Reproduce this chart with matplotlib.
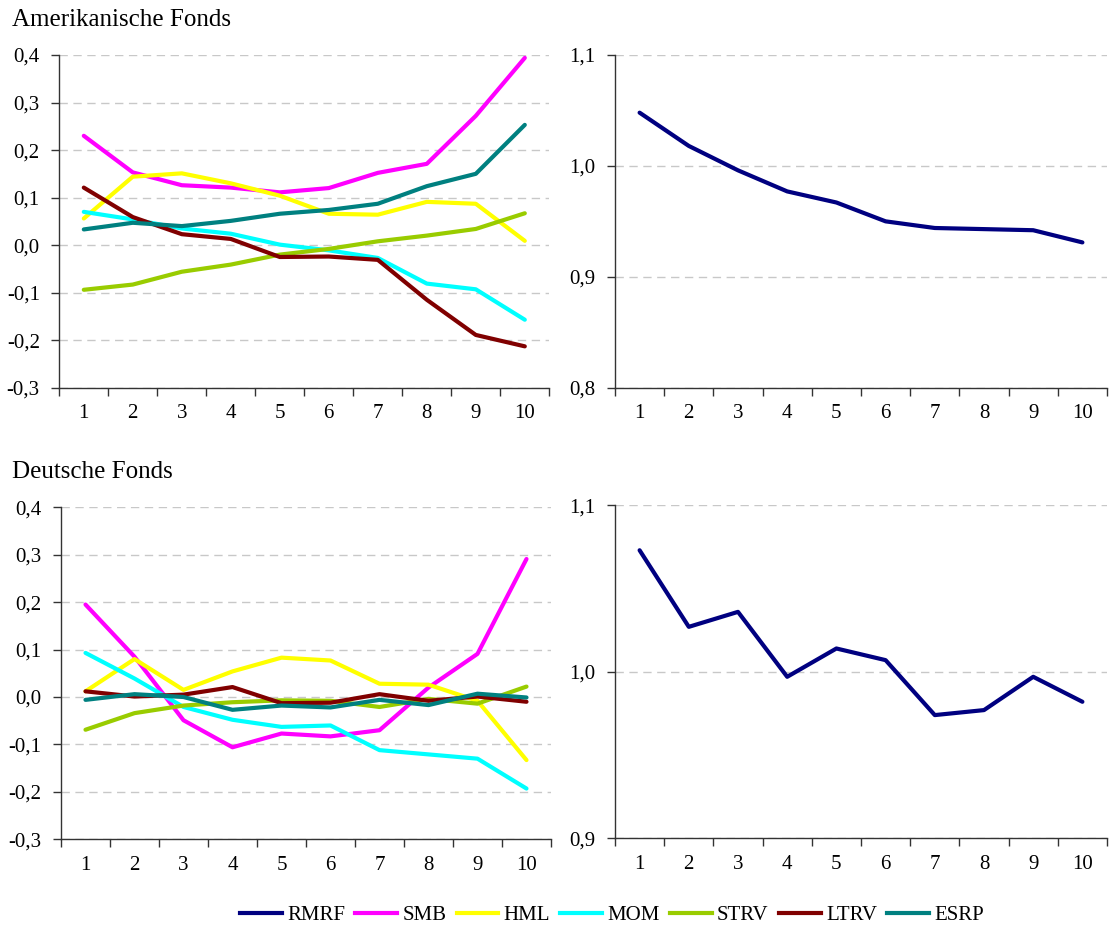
import matplotlib
matplotlib.use("Agg")
import matplotlib.pyplot as plt
from matplotlib.ticker import FuncFormatter, FixedLocator
from matplotlib.lines import Line2D

plt.rcParams["font.family"] = ["Liberation Serif", "DejaVu Serif"]

# Portfolio deciles 1..10
deciles = list(range(1, 11))

# Factor loadings, US funds
us_smb = [0.230, 0.153, 0.126, 0.121, 0.111, 0.120, 0.152, 0.171, 0.272, 0.394]
us_hml = [0.056, 0.144, 0.151, 0.130, 0.104, 0.066, 0.064, 0.091, 0.087, 0.009]
us_mom = [0.070, 0.054, 0.035, 0.024, 0.001, -0.011, -0.027, -0.081, -0.093, -0.157]
us_strv = [-0.094, -0.083, -0.056, -0.041, -0.020, -0.008, 0.008, 0.020, 0.034, 0.067]
us_ltrv = [0.121, 0.059, 0.023, 0.013, -0.025, -0.024, -0.031, -0.115, -0.189, -0.213]
us_esrp = [0.033, 0.047, 0.040, 0.051, 0.066, 0.074, 0.087, 0.124, 0.150, 0.253]
us_rmrf = [1.048, 1.018, 0.996, 0.977, 0.967, 0.950, 0.944, 0.943, 0.942, 0.931]

# Factor loadings, German funds
de_smb = [0.195, 0.085, -0.049, -0.106, -0.077, -0.083, -0.070, 0.020, 0.091, 0.291]
de_hml = [0.012, 0.080, 0.015, 0.054, 0.083, 0.077, 0.028, 0.026, -0.008, -0.133]
de_mom = [0.093, 0.039, -0.021, -0.048, -0.063, -0.060, -0.112, -0.121, -0.130, -0.193]
de_strv = [-0.069, -0.034, -0.018, -0.011, -0.007, -0.008, -0.021, -0.004, -0.014, 0.022]
de_ltrv = [0.012, 0.001, 0.005, 0.021, -0.013, -0.012, 0.006, -0.008, 0.001, -0.010]
de_esrp = [-0.006, 0.006, 0.000, -0.027, -0.018, -0.022, -0.006, -0.017, 0.007, -0.001]
de_rmrf = [1.073, 1.027, 1.036, 0.997, 1.014, 1.007, 0.974, 0.977, 0.997, 0.982]

factor_names = ["RMRF", "SMB", "HML", "MOM", "STRV", "LTRV", "ESRP"]
factor_colors = {
    "RMRF": "#000080",
    "SMB": "#FF00FF",
    "HML": "#FFFF00",
    "MOM": "#00FFFF",
    "STRV": "#99CC00",
    "LTRV": "#800000",
    "ESRP": "#008080",
}

LW = 3.0
FS = 15

W, H = 1109, 934
fig = plt.figure(figsize=(W / 100, H / 100), dpi=100)


def make_axes(px_left, px_right, px_top, px_bottom):
    return fig.add_axes([px_left / W, 1 - px_bottom / H,
                         (px_right - px_left) / W, (px_bottom - px_top) / H])


def comma_fmt(v, pos):
    return f"{v:.1f}".replace(".", ",")


def style_axes(ax, ymin, ymax):
    ax.set_xlim(0.5, 10.5)
    ax.set_ylim(ymin, ymax)
    n = int(round((ymax - ymin) / 0.1))
    yt = [round(ymin + 0.1 * i, 1) for i in range(n + 1)]
    ax.yaxis.set_major_locator(FixedLocator(yt))
    ax.yaxis.set_major_formatter(FuncFormatter(comma_fmt))
    # tick marks between categories, labels at category centres
    ax.xaxis.set_major_locator(FixedLocator([i + 0.5 for i in range(0, 11)]))
    ax.xaxis.set_minor_locator(FixedLocator(deciles))
    ax.set_xticklabels([])
    ax.set_xticks(deciles, [str(d) for d in deciles], minor=True)
    ax.tick_params(axis="x", which="major", direction="out", length=6, width=1.0, color="#333333")
    ax.tick_params(axis="x", which="minor", length=0, pad=12, labelsize=FS)
    ax.tick_params(axis="y", direction="out", length=6, width=1.0, color="#333333", pad=8, labelsize=FS)
    for s in ("top", "right"):
        ax.spines[s].set_visible(False)
    for s in ("left", "bottom"):
        ax.spines[s].set_color("#333333")
        ax.spines[s].set_linewidth(1.0)
    ax.yaxis.grid(True, color="#c8c8c8", linestyle=(0, (6, 4)), linewidth=1.0)
    ax.set_axisbelow(True)


ax_tl = make_axes(59.3, 549.3, 55, 387.7)
ax_tr = make_axes(615, 1107, 55, 387.7)
ax_bl = make_axes(61, 551, 507.3, 839.3)
ax_br = make_axes(615, 1107, 505.3, 838.3)

style_axes(ax_tl, -0.3, 0.4)
style_axes(ax_tr, 0.8, 1.1)
style_axes(ax_bl, -0.3, 0.4)
style_axes(ax_br, 0.9, 1.1)

us_series = {"SMB": us_smb, "HML": us_hml, "MOM": us_mom,
             "STRV": us_strv, "LTRV": us_ltrv, "ESRP": us_esrp}
de_series = {"SMB": de_smb, "HML": de_hml, "MOM": de_mom,
             "STRV": de_strv, "LTRV": de_ltrv, "ESRP": de_esrp}

for name, vals in us_series.items():
    ax_tl.plot(deciles, vals, color=factor_colors[name], lw=LW, solid_capstyle="round")
for name, vals in de_series.items():
    ax_bl.plot(deciles, vals, color=factor_colors[name], lw=LW, solid_capstyle="round")

ax_tr.plot(deciles, us_rmrf, color=factor_colors["RMRF"], lw=LW, solid_capstyle="round")
ax_br.plot(deciles, de_rmrf, color=factor_colors["RMRF"], lw=LW, solid_capstyle="round")

fig.text(12 / W, 1 - 26 / H, "Amerikanische Fonds", fontsize=18, va="baseline", ha="left")
fig.text(12 / W, 1 - 478 / H, "Deutsche Fonds", fontsize=18, va="baseline", ha="left")

handles = [Line2D([], [], color=factor_colors[n], lw=LW) for n in factor_names]
fig.legend(handles, factor_names, loc="center", bbox_to_anchor=(612 / W, 1 - 915 / H),
           ncol=7, frameon=False, fontsize=FS, handlelength=2.0, handletextpad=0.25,
           columnspacing=0.5)

fig.savefig("out.png", dpi=100)
